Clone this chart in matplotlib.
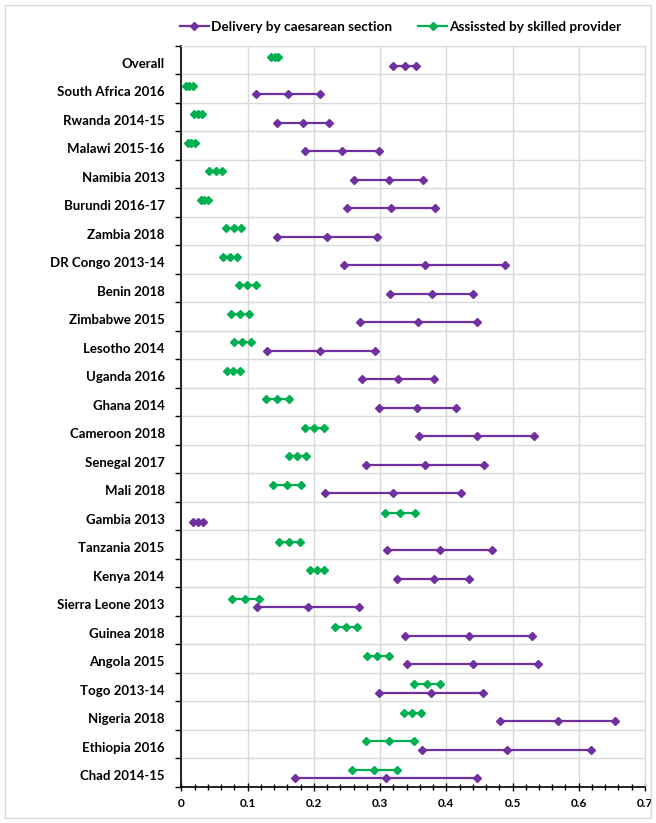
import matplotlib.pyplot as plt
import numpy as np
from matplotlib.lines import Line2D
from matplotlib.patches import Rectangle

plt.rcParams["font.family"] = ["Lato", "DejaVu Sans"]

# rows, top to bottom
countries = [
    "Overall", "South Africa 2016", "Rwanda 2014-15", "Malawi 2015-16",
    "Namibia 2013", "Burundi 2016-17", "Zambia 2018", "DR Congo 2013-14",
    "Benin 2018", "Zimbabwe 2015", "Lesotho 2014", "Uganda 2016",
    "Ghana 2014", "Cameroon 2018", "Senegal 2017", "Mali 2018",
    "Gambia 2013", "Tanzania 2015", "Kenya 2014", "Sierra Leone 2013",
    "Guinea 2018", "Angola 2015", "Togo 2013-14", "Nigeria 2018",
    "Ethiopia 2016", "Chad 2014-15",
]

# delivery by caesarean section: lower, point, upper
cs_low = [0.320, 0.112, 0.144, 0.186, 0.261, 0.250, 0.144, 0.246, 0.315, 0.270,
          0.129, 0.273, 0.298, 0.359, 0.279, 0.217, 0.018, 0.311, 0.326, 0.115,
          0.338, 0.340, 0.299, 0.481, 0.364, 0.171]
cs_mid = [0.337, 0.161, 0.183, 0.242, 0.313, 0.316, 0.220, 0.368, 0.379, 0.358,
          0.210, 0.327, 0.356, 0.446, 0.368, 0.320, 0.025, 0.390, 0.381, 0.192,
          0.434, 0.440, 0.377, 0.568, 0.491, 0.309]
cs_high = [0.355, 0.210, 0.223, 0.299, 0.365, 0.383, 0.296, 0.489, 0.441, 0.446,
           0.292, 0.382, 0.415, 0.533, 0.457, 0.422, 0.032, 0.469, 0.435, 0.268,
           0.529, 0.538, 0.455, 0.654, 0.618, 0.447]

# assisted by skilled provider: lower, point, upper
sp_low = [0.136, 0.007, 0.019, 0.010, 0.042, 0.029, 0.067, 0.063, 0.087, 0.075,
          0.080, 0.069, 0.128, 0.186, 0.163, 0.138, 0.307, 0.148, 0.195, 0.076,
          0.232, 0.280, 0.351, 0.336, 0.279, 0.258]
sp_mid = [0.141, 0.012, 0.025, 0.015, 0.052, 0.034, 0.079, 0.074, 0.099, 0.088,
          0.092, 0.078, 0.145, 0.201, 0.175, 0.159, 0.330, 0.163, 0.205, 0.096,
          0.249, 0.296, 0.371, 0.349, 0.314, 0.291]
sp_high = [0.146, 0.017, 0.031, 0.020, 0.062, 0.040, 0.090, 0.084, 0.112, 0.102,
           0.105, 0.088, 0.162, 0.216, 0.188, 0.181, 0.353, 0.179, 0.215, 0.117,
           0.265, 0.313, 0.391, 0.362, 0.351, 0.325]

purple = "#7030A0"
green = "#00B050"

fig = plt.figure(figsize=(6.56, 8.23), dpi=100)
ax = fig.add_axes([0.2764, 0.0441, 0.7068, 0.9004])

n = len(countries)
for k in range(n):
    y = n - 1 - k
    ax.plot([sp_low[k], sp_mid[k], sp_high[k]], [y + 0.6] * 3, color=green,
            lw=1.6, marker="D", ms=4.5, zorder=3)
    ax.plot([cs_low[k], cs_mid[k], cs_high[k]], [y + 0.3] * 3, color=purple,
            lw=1.6, marker="D", ms=4.5, zorder=3)

ax.set_xlim(0, 0.7)
ax.set_ylim(0, n)
ax.set_xticks(np.arange(0, 0.71, 0.1))
ax.set_xticklabels(["0", "0.1", "0.2", "0.3", "0.4", "0.5", "0.6", "0.7"],
                   fontweight="bold", fontsize=8.5)
ax.set_xticks(np.arange(0, 0.70, 0.02), minor=True)
ax.set_yticks(np.arange(0, n + 1))
ax.set_yticklabels([])
ax.set_yticks(np.arange(n) + 0.4, minor=True)
ax.set_yticklabels(countries[::-1], minor=True, fontweight="bold", fontsize=9.5)

ax.tick_params(axis="x", which="major", direction="inout", length=6, width=1, pad=5)
ax.tick_params(axis="x", which="minor", direction="inout", length=4, width=1)
ax.tick_params(axis="y", which="major", direction="out", length=4, width=1)
ax.tick_params(axis="y", which="minor", length=0, pad=12)

ax.grid(True, which="major", color="#d9d9d9", lw=1, zorder=0)
ax.set_axisbelow(True)
for side in ["top", "right"]:
    ax.spines[side].set_color("#d9d9d9")
for side in ["left", "bottom"]:
    ax.spines[side].set_color("black")
    ax.spines[side].set_linewidth(1.2)

handles = [
    Line2D([], [], color=purple, lw=1.6, marker="D", ms=4),
    Line2D([], [], color=green, lw=1.6, marker="D", ms=4),
]
fig.legend(handles, ["Delivery by caesarean section", "Assissted by skilled provider"],
           loc="center", bbox_to_anchor=(0.611, 0.967), ncol=2, frameon=False,
           prop={"weight": "bold", "size": 9.8}, handlelength=2.1,
           handletextpad=0.2, columnspacing=1.9)

fig.patches.append(Rectangle((0.007, 0.006), 0.986, 0.988, transform=fig.transFigure,
                             fill=False, edgecolor="#d9d9d9", lw=1))

fig.savefig("out.png", dpi=100)
